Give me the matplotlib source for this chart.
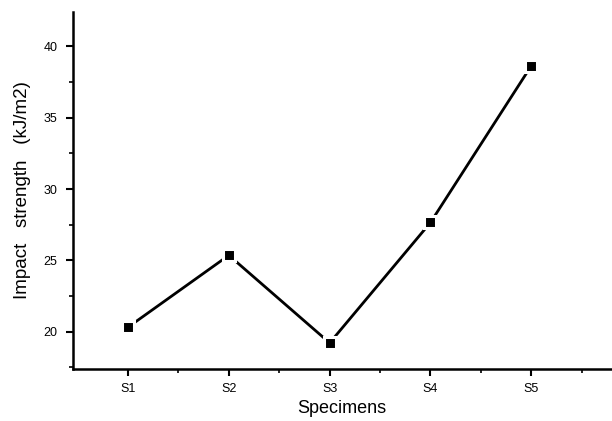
import matplotlib.pyplot as plt
from matplotlib.ticker import MultipleLocator

plt.rcParams['font.family'] = ['Liberation Sans', 'DejaVu Sans']

specimens = ['S1', 'S2', 'S3', 'S4', 'S5']
impact = [20.3, 25.35, 19.2, 27.65, 38.65]

fig = plt.figure(figsize=(6.12, 4.21), dpi=100)
ax = fig.add_axes([0.1185, 0.1235, 0.8815, 0.848])

x = list(range(1, len(specimens) + 1))
ax.plot(x, impact, color='black', linewidth=2.0, marker='s', markersize=8.5,
        markerfacecolor='black', markeredgecolor='white', markeredgewidth=2.2)

ax.set_xlim(0.45, 5.8)
ax.set_ylim(17.37, 42.42)
ax.set_xticks(x)
ax.set_xticklabels(specimens)
ax.set_xticks([1.5, 2.5, 3.5, 4.5, 5.5], minor=True)
ax.yaxis.set_major_locator(MultipleLocator(5))
ax.yaxis.set_minor_locator(MultipleLocator(2.5))

for side in ['top', 'right']:
    ax.spines[side].set_visible(False)
for side in ['left', 'bottom']:
    ax.spines[side].set_linewidth(1.8)

ax.tick_params(axis='both', which='major', direction='out', length=5, width=1.5,
               labelsize=9)
ax.tick_params(axis='y', which='major', pad=6)
ax.tick_params(axis='x', which='major', pad=5)
ax.tick_params(axis='both', which='minor', direction='out', length=3, width=1.2)

ax.set_ylabel('Impact   strength   (kJ/m2)', fontsize=13.5, labelpad=9)
ax.set_xlabel('Specimens', fontsize=13, labelpad=4)

fig.savefig('out.png', dpi=100)
